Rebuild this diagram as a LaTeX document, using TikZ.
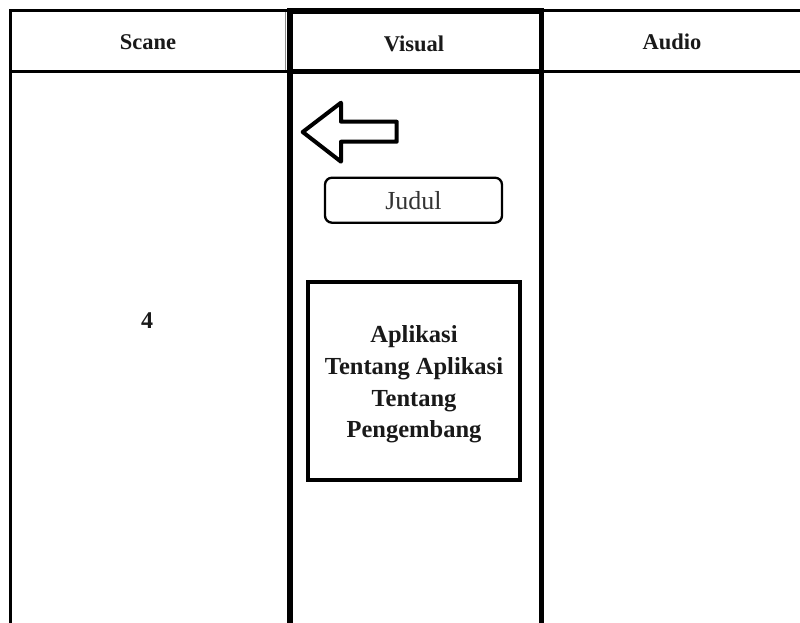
\documentclass[tikz,border=0pt]{standalone}
\usepackage{fontspec}
\setmainfont{Liberation Serif}
\begin{document}
\begin{tikzpicture}[x=1pt,y=-1pt]
\tikzset{
  cellline/.style={line width=3pt, draw=black},
  visline/.style={line width=5.5pt, draw=black},
  headtext/.style={font=\fontsize{22.5}{26}\selectfont\bfseries, anchor=base, inner sep=0pt, text=black!90},
  bodytext/.style={font=\fontsize{24.5}{31.7}\selectfont\bfseries, align=center, inner sep=0pt, text=black!90},
  navarrow/.style={line width=4pt, line join=round, draw=black},
  titlebox/.style={draw=black, line width=2.3pt, rounded corners=7pt, minimum width=177pt,
    minimum height=45pt, inner sep=0pt, font=\fontsize{26}{30}\selectfont, text=black!80},
  contentbox/.style={draw=black, line width=4pt, minimum width=212pt, minimum height=198pt, inner sep=0pt}
}
\useasboundingbox (0,0) rectangle (800,623);
\fill[white] (0,0) rectangle (800,623);
\clip (0,0) rectangle (800,623);

% header row: Scane and Audio cells
\draw[cellline] (10.5,11) rectangle (288,71.5);
\draw[cellline] (541.5,11) rectangle (812,71.5);
\draw[line width=1pt, black!45] (285.5,12) -- (285.5,70);
% column rules of the body
\draw[cellline, line width=3.5pt] (10.5,71.5) -- (10.5,630);
% Visual column, drawn heavier
\draw[visline] (290,11) rectangle (541.5,71.5);
\draw[visline] (290,71.5) -- (290,630);
\draw[visline] (541.5,71.5) -- (541.5,630);

% header labels
\node[headtext] (scane) at (148,50) {Scane};
\node[headtext] (visual) at (414,52) {Visual};
\node[headtext] (audio) at (672,50) {Audio};

% scene number
\node[headtext, font=\fontsize{24}{30}\selectfont\bfseries] (scenenum) at (147,328) {4};

% back arrow
\draw[navarrow] (302.7,132) -- (341,102.7) -- (341,121.7) -- (396.7,121.7)
  -- (396.7,141.7) -- (341,141.7) -- (341,161.7) -- cycle;

% title button
\node[titlebox] (judul) at (413.5,200.2) {Judul};

% menu panel
\node[contentbox] (panel) at (414,380.9) {};
\node[bodytext] (menu) at (414,384.5) {Aplikasi\\Tentang Aplikasi\\Tentang\\Pengembang};
\end{tikzpicture}
\end{document}
